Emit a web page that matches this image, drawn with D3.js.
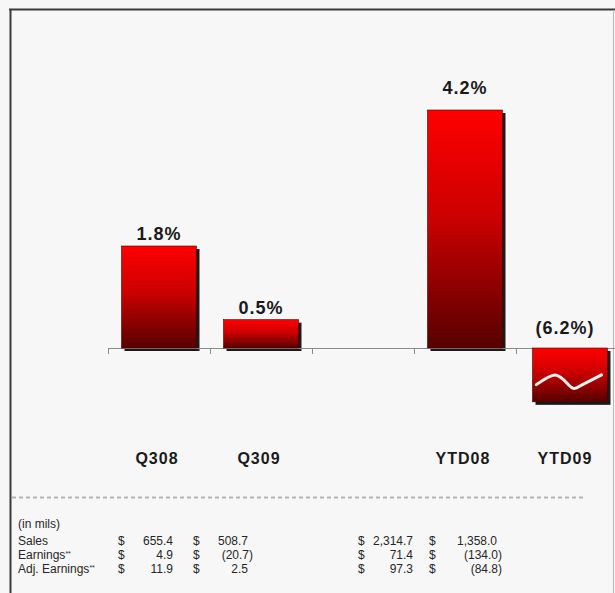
<!DOCTYPE html>
<html lang="en">
<head>
<meta charset="UTF-8">
<title>Margin chart</title>
<style>
  html, body { margin: 0; padding: 0; background: #f7f7f7; }
  svg { display: block; }
</style>
</head>
<body>
<svg id="chart" width="615" height="593"></svg>
<script src="https://d3js.org/d3.v7.min.js"></script>
<script>
// data
var categories = ["Q308", "Q309", "", "YTD08", "YTD09"];
var margins = [1.8, 0.5, null, 4.2, -6.2];
var marginLabels = ["1.8%", "0.5%", "", "4.2%", "(6.2%)"];
var axisFloor = -0.95; // negative bars are cut off here (broken bar)

var rowLabels = ["Sales", "Earnings", "Adj. Earnings"];
var rowNotes = ["", "**", "**"];
var q308 = ["655.4", "4.9", "11.9"];
var q309 = ["508.7", "(20.7)", "2.5"];
var ytd08 = ["2,314.7", "71.4", "97.3"];
var ytd09 = ["1,358.0", "(134.0)", "(84.8)"];

var svg = d3.select("#chart"),
    width = +svg.attr("width"),
    height = +svg.attr("height");

var base = 348;
var x = d3.scaleBand().domain(categories).range([108, 618])
    .paddingInner(0.265).paddingOuter(0.1325);
var y = d3.scaleLinear().domain([0, 4.2]).range([base, 110]);

var defs = svg.append("defs");
var grad = defs.append("linearGradient").attr("id", "barGrad")
    .attr("x1", 0).attr("y1", 0).attr("x2", 0).attr("y2", 1);
grad.append("stop").attr("offset", "0%").attr("stop-color", "#ff0000");
grad.append("stop").attr("offset", "45%").attr("stop-color", "#cc0000");
grad.append("stop").attr("offset", "100%").attr("stop-color", "#560000");

// frame
svg.append("rect").attr("width", width).attr("height", height).attr("fill", "#f7f7f7");
svg.append("line").attr("x1", 9).attr("x2", width).attr("y1", 9.5).attr("y2", 9.5)
    .attr("stroke", "#3a3a3a").attr("stroke-width", 2);
svg.append("line").attr("x1", 10.5).attr("x2", 10.5).attr("y1", 9).attr("y2", height)
    .attr("stroke", "#3a3a3a").attr("stroke-width", 2);
svg.append("line").attr("x1", 613.5).attr("x2", 613.5).attr("y1", 10).attr("y2", height)
    .attr("stroke", "#b8b8b8").attr("stroke-width", 1);

var bars = categories.map(function (c, i) {
  return { cat: c, v: margins[i], label: marginLabels[i] };
}).filter(function (d) { return d.v !== null; });

function barX(d) { return x(d.cat) + (d.v < 0 ? 3 : 0); }
function barTop(d) { return d.v >= 0 ? y(d.v) : base; }
function barBottom(d) { return d.v >= 0 ? base : y(Math.max(d.v, axisFloor)); }

// shadows
svg.selectAll(".shadow").data(bars).enter().append("rect")
    .attr("x", function (d) { return barX(d) + 3; })
    .attr("y", function (d) { return barTop(d) + 3; })
    .attr("width", x.bandwidth())
    .attr("height", function (d) { return barBottom(d) - barTop(d); })
    .attr("fill", "#1a1a1a");

// axis line + ticks
svg.append("line").attr("x1", x.range()[0]).attr("x2", width)
    .attr("y1", base + 0.5).attr("y2", base + 0.5)
    .attr("stroke", "#8a8a8a").attr("stroke-width", 1);
svg.selectAll(".tick").data(d3.range(categories.length + 1)).enter().append("line")
    .attr("x1", function (i) { return x.range()[0] + i * x.step() + 0.5; })
    .attr("x2", function (i) { return x.range()[0] + i * x.step() + 0.5; })
    .attr("y1", base).attr("y2", base + 6)
    .attr("stroke", "#8a8a8a");

// bars
svg.selectAll(".bar").data(bars).enter().append("rect")
    .attr("x", barX)
    .attr("y", function (d) { return barTop(d); })
    .attr("width", x.bandwidth())
    .attr("height", function (d) { return barBottom(d) - barTop(d); })
    .attr("fill", "url(#barGrad)")
    .attr("stroke", "#4a0000").attr("stroke-width", 0.6);

// break mark on cut-off bars
var wave = [[0.05, 0.68], [0.3, 0.5], [0.4, 0.57], [0.55, 0.75], [0.68, 0.67], [0.92, 0.5]];
var line = d3.line().curve(d3.curveCatmullRom);
bars.filter(function (d) { return d.v < axisFloor; }).forEach(function (d) {
  var x0 = barX(d), w = x.bandwidth(), t = barTop(d), h = barBottom(d) - t;
  svg.append("path")
      .attr("d", line(wave.map(function (p) { return [x0 + p[0] * w, t + p[1] * h]; })))
      .attr("fill", "none").attr("stroke", "#fff0f0").attr("stroke-width", 3)
      .attr("stroke-linecap", "round");
});

// value labels
svg.selectAll(".val").data(bars).enter().append("text")
    .attr("x", function (d) { return barX(d) + x.bandwidth() / 2 - (d.v < 0 ? 5 : 0); })
    .attr("y", function (d) { return d.v >= 0 ? barTop(d) - (d.v > 3 ? 16 : 6) : base - 14; })
    .attr("text-anchor", "middle")
    .attr("font-family", "Liberation Sans, Arial, sans-serif")
    .attr("font-weight", "bold").attr("font-size", "18px")
    .attr("letter-spacing", "1px")
    .attr("fill", "#1a1a1a")
    .text(function (d) { return d.label; });

// category labels
svg.selectAll(".cat").data(categories.filter(function (c) { return c !== ""; })).enter().append("text")
    .attr("x", function (c) { return x(c) + x.bandwidth() / 2 - 2; })
    .attr("y", 464)
    .attr("text-anchor", "middle")
    .attr("font-family", "Liberation Sans, Arial, sans-serif")
    .attr("font-weight", "bold").attr("font-size", "16px")
    .attr("letter-spacing", "1px")
    .attr("fill", "#1a1a1a")
    .text(function (c) { return c; });

// dashed separator
svg.append("line").attr("x1", 12).attr("x2", 584).attr("y1", 497.5).attr("y2", 497.5)
    .attr("stroke", "#b4b4b4").attr("stroke-width", 2).attr("stroke-dasharray", "4,3");

// table
var tfont = "Liberation Sans, Arial, sans-serif";
var table = svg.append("g").attr("font-family", tfont).attr("font-size", "12px").attr("fill", "#262626");
table.append("text").attr("x", 18).attr("y", 528).text("(in mils)");
var rowY = [545, 559, 573];
var cols = [
  { dollar: 118, right: 173, vals: q308 },
  { dollar: 193, right: 248, vals: q309 },
  { dollar: 358, right: 413, vals: ytd08 },
  { dollar: 429, right: 497, vals: ytd09 }
];
rowLabels.forEach(function (lab, r) {
  var t = table.append("text").attr("x", 18).attr("y", rowY[r]).text(lab);
  if (rowNotes[r]) {
    t.append("tspan").attr("font-size", "7px").attr("dy", -3).text(rowNotes[r]);
  }
  cols.forEach(function (c) {
    table.append("text").attr("x", c.dollar).attr("y", rowY[r]).text("$");
    var v = c.vals[r], neg = v.charAt(0) === "(";
    table.append("text").attr("x", c.right + (neg ? 5 : 0)).attr("y", rowY[r])
        .attr("text-anchor", "end").text(v);
  });
});
</script>
</body>
</html>
